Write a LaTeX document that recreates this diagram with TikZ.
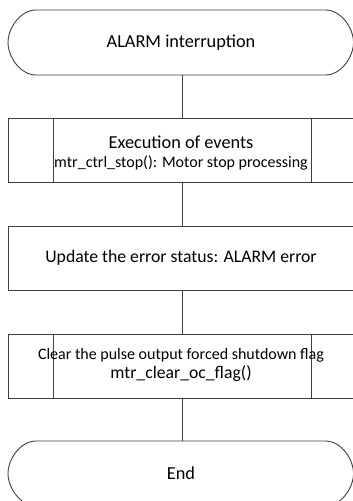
\documentclass[tikz,border=0pt]{standalone}
\usepackage{fontspec}
\setmainfont{Carlito}
\begin{document}
\begin{tikzpicture}[x=1pt,y=-1pt,
  line/.style={draw=black!75, line width=0.9pt},
  bigtxt/.style={font=\fontsize{18.3}{21}\selectfont},
  midtxt/.style={font=\fontsize{17.7}{21}\selectfont},
  smalltxt/.style={font=\fontsize{16}{19}\selectfont}]
\useasboundingbox (0,0) rectangle (353,501);
% terminal shape: top y #1, bottom y #2
\def\termshape#1#2{%
  \pgfmathsetmacro\ymid{(#1+#2)/2}%
  \pgfmathsetmacro\ka{#1+0.552*32.5}%
  \pgfmathsetmacro\kb{#2-0.552*32.5}%
  \draw[line] (36,#1) -- (325.5,#1)
    .. controls (341,#1) and (353.5,\ka) .. (353.5,\ymid)
    .. controls (353.5,\kb) and (341,#2) .. (325.5,#2)
    -- (36,#2)
    .. controls (20.5,#2) and (8,\kb) .. (8,\ymid)
    .. controls (8,\ka) and (20.5,#1) .. (36,#1) -- cycle;}
\termshape{10}{75}
\node[bigtxt] (start) at (181,42.5) {ALARM interruption};
\coordinate (startb) at (182,75);
% box 1
\draw[line] (8,118) rectangle (353.5,182);
\draw[line] (53,118) -- (53,182) (311.5,118) -- (311.5,182);
\node[bigtxt] (ex1) at (181,142) {Execution of events};
\node[smalltxt] (ex2) at (181,163) {mtr\_ctrl\_stop(): Motor stop processing};
\coordinate (b1t) at (182,118);
\coordinate (b1b) at (182,182);
% box 2
\draw[line] (8,226) rectangle (353.5,290);
\node[midtxt] (upd) at (181,258) {Update the error status: ALARM error};
\coordinate (b2t) at (182,226);
\coordinate (b2b) at (182,290);
% box 3
\draw[line] (8,334) rectangle (353.5,398);
\draw[line] (53,334) -- (53,398) (311.5,334) -- (311.5,398);
\node[smalltxt] (cl1) at (181,355) {Clear the pulse output forced shutdown flag};
\node[midtxt] (cl2) at (181,374) {mtr\_clear\_oc\_flag()};
\coordinate (b3t) at (182,334);
\coordinate (b3b) at (182,398);
% end terminal
\termshape{441}{506}
\node[bigtxt] (end) at (181,473.5) {End};
\coordinate (endt) at (182,441);
% connectors
\draw[line] (startb) -- (b1t);
\draw[line] (b1b) -- (b2t);
\draw[line] (b2b) -- (b3t);
\draw[line] (b3b) -- (endt);
\end{tikzpicture}
\end{document}
